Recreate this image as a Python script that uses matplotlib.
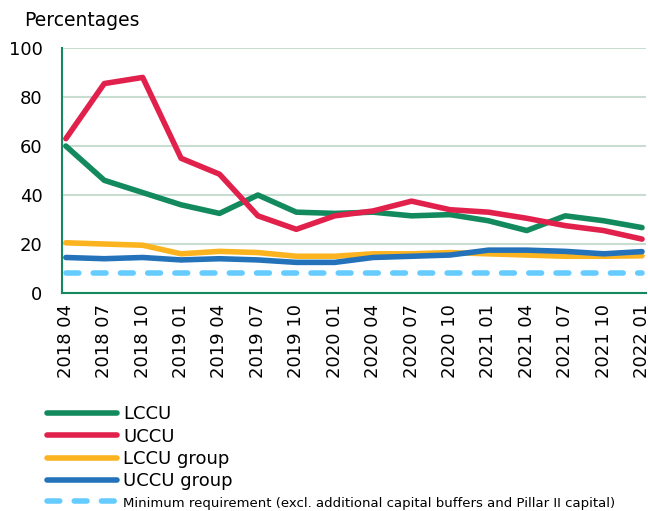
import matplotlib.pyplot as plt
import numpy as np

quarters = ['2018 04', '2018 07', '2018 10', '2019 01', '2019 04', '2019 07',
            '2019 10', '2020 01', '2020 04', '2020 07', '2020 10', '2021 01',
            '2021 04', '2021 07', '2021 10', '2022 01']

lccu = [60, 46, 41, 36, 32.5, 40, 33, 32.5, 33, 31.5, 32, 29.5, 25.5, 31.5, 29.5, 26.7]
uccu = [63, 85.5, 88, 55, 48.5, 31.5, 26, 31.5, 33.5, 37.5, 34, 33, 30.5, 27.5, 25.5, 22]
lccu_group = [20.5, 20, 19.5, 16, 17, 16.5, 15, 15, 16, 16, 16.5, 16, 15.5, 15, 15, 15.2]
uccu_group = [14.5, 14, 14.5, 13.5, 14, 13.5, 12.5, 12.5, 14.5, 15, 15.5, 17.5, 17.5, 17, 16, 16.9]
min_req = [8] * len(quarters)

fig = plt.figure(figsize=(6.48, 5.11), dpi=100)
ax = fig.add_axes([0.0957, 0.4266, 0.901, 0.4794])

x = np.arange(len(quarters))
spine_col = '#138a5e'

ax.plot(x, lccu, color='#138a5e', lw=4, label='LCCU', solid_capstyle='round', zorder=5)
ax.plot(x, uccu, color='#e1214b', lw=4, label='UCCU', solid_capstyle='round', zorder=6)
ax.plot(x, lccu_group, color='#fbb320', lw=4, label='LCCU group', solid_capstyle='round', zorder=3)
ax.plot(x, uccu_group, color='#2473ba', lw=4, label='UCCU group', solid_capstyle='round', zorder=4)
ax.plot(x, min_req, color='#66ccff', lw=4, ls=(0, (2.3, 2.6)), dash_capstyle='round',
        label='Minimum requirement (excl. additional capital buffers and Pillar II capital)', zorder=2)

ax.set_xlim(-0.1, len(quarters) - 0.9)
ax.set_ylim(0, 100)
ax.set_yticks(range(0, 101, 20))
ax.set_xticks(x)
ax.set_xticklabels(quarters, rotation=90, fontsize=13)
ax.tick_params(axis='y', labelsize=13, length=0, pad=14)
ax.tick_params(axis='x', length=0, pad=8)
ax.grid(axis='y', color='#c8ddd0', lw=1.5)
ax.set_axisbelow(True)
for s in ['top', 'right']:
    ax.spines[s].set_visible(False)
for s in ['left', 'bottom']:
    ax.spines[s].set_color(spine_col)
    ax.spines[s].set_linewidth(1.5)

fig.text(0.038, 0.96, 'Percentages', fontsize=13.5, va='center', ha='left')

leg = fig.legend(loc='upper left', bbox_to_anchor=(0.072, 0.207), frameon=False,
                 fontsize=13, handlelength=3.9, handletextpad=0.35, labelspacing=0.24,
                 borderaxespad=0, borderpad=0)
leg.get_texts()[4].set_fontsize(9.5)

fig.savefig('out.png', dpi=100)
